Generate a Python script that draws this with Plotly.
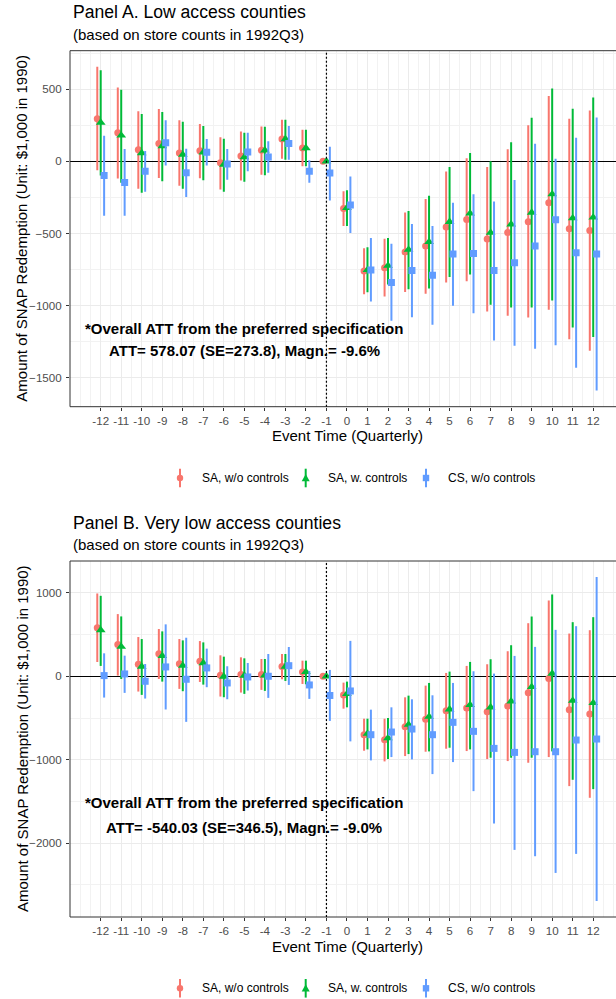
import numpy as np
import plotly.graph_objects as go

W, H = 616, 999

# ---------------- data ----------------
events = list(range(-12, 13))
tick_labels = [str(e) for e in events]

series_names = ["SA, w/o controls", "SA, w. controls", "CS, w/o controls"]

# Panel A: low access counties
a_sa_nc_est = [294, 197, 80, 124, 57, 73, -11, 37, 76, 154, 92, 0,
               -327, -760, -737, -628, -587, -456, -403, -539, -493, -419, -288, -467, -479]
a_sa_nc_lo = [-62, -119, -190, -115, -170, -117, -195, -133, -94, 18, -34, 0,
              -449, -921, -937, -905, -918, -840, -831, -1041, -1070, -1082, -1029, -1232, -1312]
a_sa_nc_hi = [654, 511, 346, 362, 284, 259, 167, 206, 241, 287, 218, 0,
              -207, -603, -536, -355, -262, -71, 21, -39, 83, 249, 453, 295, 352]

a_sa_c_est = [268, 179, 57, 105, 46, 62, -23, 28, 76, 154, 92, 0,
              -322, -753, -723, -612, -559, -419, -361, -495, -437, -355, -228, -394, -389]
a_sa_c_lo = [-99, -149, -218, -138, -190, -131, -211, -142, -96, 11, -34, 0,
             -449, -907, -854, -886, -882, -801, -785, -994, -1013, -1013, -965, -1151, -1218]
a_sa_c_hi = [631, 495, 328, 342, 273, 245, 156, 197, 239, 287, 218, 0,
             -200, -596, -532, -345, -239, -39, 58, 0, 131, 302, 504, 364, 442]

a_cs_est = [-99, -147, -69, 128, -80, 62, -18, 64, 30, 124, -69, -82,
            -302, -753, -840, -757, -790, -642, -638, -757, -702, -587, -405, -633, -642]
a_cs_lo = [-378, -378, -211, -30, -248, -30, -128, -69, -80, 11, -149, -272,
           -497, -971, -1105, -1080, -1133, -1001, -1052, -1241, -1278, -1298, -1275, -1430, -1588]
a_cs_hi = [177, 85, 71, 284, 87, 154, 85, 197, 138, 245, 7, 101,
           -106, -532, -571, -435, -449, -288, -228, -279, -129, 122, 18, 163, 304]

# Panel B: very low access counties
b_sa_nc_est = [582, 382, 143, 271, 151, 179, 12, 20, 20, 116, 52, 0,
               -224, -700, -760, -604, -516, -412, -380, -424, -356, -196, -28, -400, -452]
b_sa_nc_lo = [171, 8, -183, -32, -151, -68, -243, -195, -163, -36, -92, 0,
              -388, -892, -1020, -956, -904, -868, -896, -992, -1016, -1036, -968, -1316, -1456]
b_sa_nc_hi = [992, 745, 470, 566, 446, 422, 251, 227, 207, 267, 187, 0,
              -76, -508, -508, -252, -112, 40, 124, 144, 300, 636, 908, 512, 552]

b_sa_c_est = [554, 355, 116, 243, 127, 159, -4, 8, 12, 116, 52, 0,
              -212, -688, -740, -580, -484, -396, -344, -372, -300, -128, 32, -292, -320]
b_sa_c_lo = [124, -32, -223, -64, -179, -100, -251, -211, -175, -56, -96, 0,
             -372, -876, -992, -932, -900, -856, -876, -976, -976, -976, -900, -1240, -1352]
b_sa_c_hi = [964, 717, 446, 538, 430, 406, 235, 215, 207, 267, 187, 0,
             -64, -508, -500, -232, -80, 56, 172, 204, 372, 716, 980, 648, 708]

b_cs_est = [8, 28, -60, 112, -36, 100, -80, -8, 0, 127, -104, -230,
            -176, -700, -668, -632, -700, -552, -660, -864, -912, -904, -904, -764, -752]
b_cs_lo = [-255, -199, -267, -398, -546, -131, -275, -171, -259, -104, -271, -535,
           -780, -1008, -968, -996, -1172, -1028, -1376, -1764, -2080, -2156, -2356, -2128, -2692]
b_cs_hi = [275, 247, 147, 622, 462, 331, 120, 159, 267, 351, 64, 76,
           424, -400, -372, -276, -228, -80, 60, 32, 244, 352, 556, 600, 1188]

panel_titles = ["Panel A. Low access counties", "Panel B. Very low access counties"]
panel_subtitle = "(based on store counts in 1992Q3)"
att_header = "*Overall ATT from the preferred specification"
att_lines = ["ATT= 578.07 (SE=273.8), Magn.= -9.6%",
             "ATT= -540.03 (SE=346.5), Magn.= -9.0%"]
y_title = "Amount of SNAP Redemption (Unit: $1,000 in 1990)"
x_title = "Event Time (Quarterly)"

y_ticks = [[-1500, -1000, -500, 0, 500], [-2000, -1000, 0, 1000]]
y_minor = [[-1750, -1250, -750, -250, 250, 750], [-2500, -1500, -500, 500]]
y_ranges = [[-1700, 766], [-2884, 1381]]
att_y = [[-1155, -1308], [-1510, -1808]]

panels = [
    [(a_sa_nc_est, a_sa_nc_lo, a_sa_nc_hi), (a_sa_c_est, a_sa_c_lo, a_sa_c_hi), (a_cs_est, a_cs_lo, a_cs_hi)],
    [(b_sa_nc_est, b_sa_nc_lo, b_sa_nc_hi), (b_sa_c_est, b_sa_c_lo, b_sa_c_hi), (b_cs_est, b_cs_lo, b_cs_hi)],
]

# ---------------- style ----------------
colors = ["#F8766D", "#00BA38", "#619CFF"]
symbols = ["circle", "triangle-up", "square"]
msizes = [7, 8.5, 7]
dodge = [-1 / 6, 0, 1 / 6]
FONT = "Liberation Sans, Arial, Helvetica, sans-serif"
TICK_COLOR = "#4D4D4D"
BORDER = "#333333"
GRID = "#EBEBEB"

PANEL_OFFSET = 510.3
panel_top = 50.7
panel_bottom = 406.7
panel_left = 70.0
x_range = [-13.496, 13.11]
x_right_px = 624.0  # panel border continues past the page edge


def px(x):
    return x / W


def py(y):
    return 1 - y / H


fig = go.Figure()
shapes = []
annotations = []
layout_axes = {}

for p in range(2):
    off = p * PANEL_OFFSET
    xa = "x" if p == 0 else "x2"
    ya = "y" if p == 0 else "y2"
    xname = "xaxis" if p == 0 else "xaxis2"
    yname = "yaxis" if p == 0 else "yaxis2"

    for s in range(3):
        est, lo, hi = panels[p][s]
        est = np.array(est, dtype=float)
        lo = np.array(lo, dtype=float)
        hi = np.array(hi, dtype=float)
        fig.add_trace(go.Scatter(
            x=np.array(events) + dodge[s], y=est, mode="markers",
            xaxis=xa, yaxis=ya, name=series_names[s], showlegend=False,
            marker=dict(symbol=symbols[s], size=msizes[s], color=colors[s],
                        line=dict(width=0)),
            error_y=dict(type="data", symmetric=False, array=hi - est,
                         arrayminus=est - lo, color=colors[s], thickness=2, width=0),
        ))

    top, bottom = panel_top + off, panel_bottom + off
    layout_axes[xname] = dict(
        domain=[px(panel_left), 1], anchor=ya, range=x_range,
        tickmode="array", tickvals=events, ticktext=tick_labels,
        ticks="outside", ticklen=3, tickwidth=1, tickcolor=BORDER,
        ticklabelstandoff=0,
        tickfont=dict(family=FONT, size=11.6, color=TICK_COLOR),
        showgrid=True, gridcolor=GRID, gridwidth=1,
        minor=dict(tickmode="array", tickvals=list(np.arange(-13, 13.5, 0.5)),
                   showgrid=True, gridcolor="#F2F2F2", gridwidth=0.7, ticks=""),
        zeroline=False, showline=False,
    )
    layout_axes[yname] = dict(
        domain=[py(bottom), py(top)], anchor=xa, range=y_ranges[p],
        tickmode="array", tickvals=y_ticks[p],
        ticks="outside", ticklen=3, tickwidth=1, tickcolor=BORDER,
        ticklabelstandoff=2,
        tickfont=dict(family=FONT, size=11.6, color=TICK_COLOR),
        showgrid=True, gridcolor=GRID, gridwidth=1,
        minor=dict(tickmode="array", tickvals=y_minor[p],
                   showgrid=True, gridcolor="#F2F2F2", gridwidth=0.7, ticks=""),
        zeroline=True, zerolinecolor="black", zerolinewidth=1.4,
        showline=False,
    )

    # panel border
    shapes.append(dict(type="rect", xref="paper", yref="paper",
                       x0=px(panel_left), x1=px(x_right_px), y0=py(bottom), y1=py(top),
                       line=dict(color=BORDER, width=1), layer="above"))
    # treatment timing marker
    shapes.append(dict(type="line", xref=xa, yref=f"{ya} domain", x0=-1, x1=-1, y0=0, y1=1,
                       line=dict(color="black", width=1.2, dash="2px,2px"), layer="above"))

    # titles
    annotations.append(dict(text=panel_titles[p], xref="paper", yref="paper",
                            x=px(70.5), y=py(12.5 + off), xanchor="left", yanchor="middle",
                            showarrow=False, font=dict(family=FONT, size=17.6, color="black")))
    annotations.append(dict(text=panel_subtitle, xref="paper", yref="paper",
                            x=px(70.5), y=py(34.5 + off), xanchor="left", yanchor="middle",
                            showarrow=False, font=dict(family=FONT, size=15, color="black")))
    # axis titles
    annotations.append(dict(text=y_title, xref="paper", yref="paper", textangle=-90,
                            x=px(22), y=py((top + bottom) / 2), xanchor="center", yanchor="middle",
                            showarrow=False, font=dict(family=FONT, size=15, color="black")))
    annotations.append(dict(text=x_title, xref="paper", yref="paper",
                            x=px((panel_left + x_right_px) / 2), y=py(436 + off),
                            xanchor="center", yanchor="middle",
                            showarrow=False, font=dict(family=FONT, size=15, color="black")))
    # ATT note
    annotations.append(dict(text=f"<b>{att_header}</b>", xref=xa, yref=ya, x=-5, y=att_y[p][0],
                            xanchor="center", yanchor="middle", showarrow=False,
                            font=dict(family=FONT, size=15, color="black")))
    annotations.append(dict(text=f"<b>{att_lines[p]}</b>", xref=xa, yref=ya, x=-5, y=att_y[p][1],
                            xanchor="center", yanchor="middle", showarrow=False,
                            font=dict(family=FONT, size=15, color="black")))

    # legend: point-range glyph + label per series
    ly = 478 + off
    key_x = [180, 305.7, 426]
    for s in range(3):
        kx = key_x[s]
        shapes.append(dict(type="line", xref="paper", yref="paper",
                           x0=px(kx), x1=px(kx), y0=py(ly - 9.3), y1=py(ly + 9.3),
                           line=dict(color=colors[s], width=2)))
        r = 3.2
        if symbols[s] == "circle":
            shapes.append(dict(type="circle", xref="paper", yref="paper",
                               x0=px(kx - r), x1=px(kx + r), y0=py(ly + r), y1=py(ly - r),
                               fillcolor=colors[s], line=dict(width=0)))
        elif symbols[s] == "square":
            shapes.append(dict(type="rect", xref="paper", yref="paper",
                               x0=px(kx - r), x1=px(kx + r), y0=py(ly + r), y1=py(ly - r),
                               fillcolor=colors[s], line=dict(width=0)))
        else:
            t = 4.0
            path = (f"M {px(kx - t)},{py(ly + t * 0.8)} L {px(kx + t)},{py(ly + t * 0.8)} "
                    f"L {px(kx)},{py(ly - t)} Z")
            shapes.append(dict(type="path", xref="paper", yref="paper", path=path,
                               fillcolor=colors[s], line=dict(width=0)))
        annotations.append(dict(text=series_names[s], xref="paper", yref="paper",
                                x=px(kx + 20), y=py(ly), xanchor="left", yanchor="middle",
                                showarrow=False, font=dict(family=FONT, size=12, color="black")))

fig.update_layout(
    width=W, height=H,
    margin=dict(l=0, r=0, t=0, b=0),
    paper_bgcolor="white", plot_bgcolor="white",
    showlegend=False,
    shapes=shapes, annotations=annotations,
    **layout_axes,
)

fig.write_html("out.html")
